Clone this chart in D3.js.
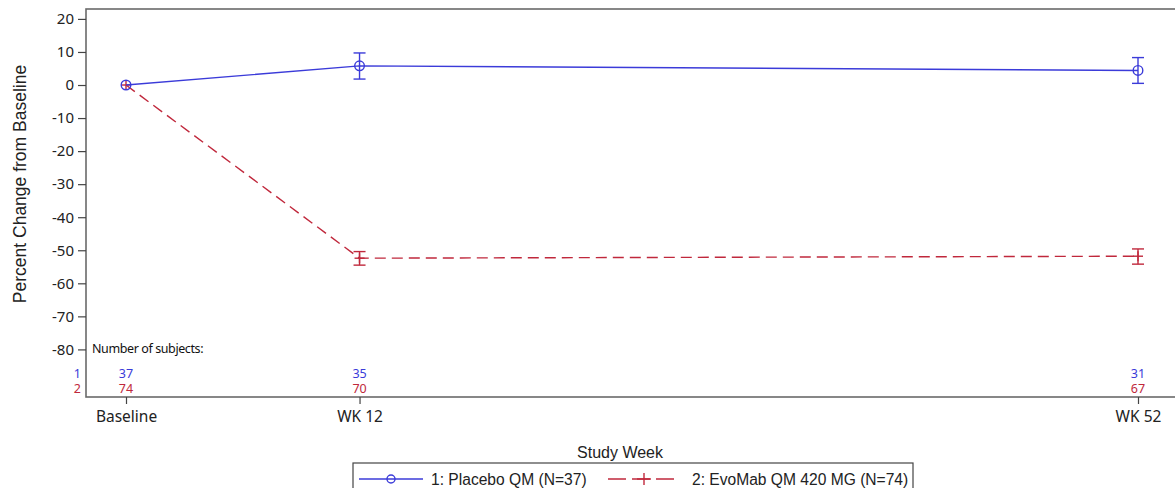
<!DOCTYPE html>
<html>
<head>
<meta charset="utf-8">
<script src="https://cdn.jsdelivr.net/npm/d3@7"></script>
<style>
  body { margin: 0; background: #fff; }
  svg { display: block; }
</style>
</head>
<body>
<div id="chartDiv"></div>
<script>
// data
var weeks = ["Baseline", "WK 12", "WK 52"];
var weekNum = [0, 12, 52];
var yTicks = [20, 10, 0, -10, -20, -30, -40, -50, -60, -70, -80];

var placeboMean = [0, 5.8, 4.4];
var placeboLow = [null, 1.8, 0.5];
var placeboHigh = [null, 9.7, 8.3];
var placeboN = [37, 35, 31];

var evoMean = [0, -52.4, -51.8];
var evoLow = [null, -54.5, -54.2];
var evoHigh = [null, -50.4, -49.6];
var evoN = [74, 70, 67];

var seriesNames = ["1: Placebo QM (N=37)", "2: EvoMab QM 420 MG (N=74)"];

var width = 1175, height = 488;
var margin = { top: 9, right: -10, bottom: 91, left: 86 };
var tickFont = "'Noto Sans', 'Open Sans', sans-serif";
var titleFont = "'Liberation Sans', Arial, sans-serif";
var blue = "#3b3bd9", red = "#c0283c";

var svg = d3.select("#chartDiv").append("svg")
    .attr("width", width)
    .attr("height", height);

var plotW = width - margin.left - margin.right;
var plotH = height - margin.top - margin.bottom;

// weeks placed on their actual week value
var x = d3.scaleLinear()
    .domain([0, 52])
    .range([40, 1052]);

var y = d3.scaleLinear()
    .domain([23, -94.4])
    .range([0, plotH]);

var g = svg.append("g")
    .attr("transform", "translate(" + margin.left + "," + margin.top + ")");

// frame
g.append("rect")
    .attr("x", 0).attr("y", 0)
    .attr("width", plotW).attr("height", plotH)
    .attr("fill", "none")
    .attr("stroke", "#6a6a6a")
    .attr("stroke-width", 1.6);

// y axis
var yAxis = g.append("g")
    .call(d3.axisLeft(y).tickValues(yTicks)
        .tickFormat(function (d) { return String(d); })
        .tickSize(8).tickSizeOuter(0));
yAxis.select(".domain").remove();
yAxis.selectAll(".tick line").attr("stroke", "#444").attr("stroke-width", 1.2);
yAxis.selectAll(".tick text")
    .attr("x", -12)
    .attr("fill", "#222")
    .style("font-family", tickFont)
    .style("font-size", "15px");

// x axis
var xAxis = g.append("g")
    .attr("transform", "translate(0," + plotH + ")")
    .call(d3.axisBottom(x).tickValues(weekNum)
        .tickFormat(function (d, i) { return weeks[i]; })
        .tickSize(7).tickSizeOuter(0));
xAxis.select(".domain").remove();
xAxis.selectAll(".tick line").attr("stroke", "#444").attr("stroke-width", 1.2);
xAxis.selectAll(".tick text")
    .attr("y", 14)
    .attr("fill", "#222")
    .style("font-family", tickFont)
    .style("font-size", "15.5px");

// axis titles
svg.append("text")
    .attr("transform", "translate(26," + 184 + ") rotate(-90)")
    .attr("text-anchor", "middle")
    .style("font-family", titleFont)
    .style("font-size", "17.5px")
    .attr("fill", "#222")
    .text("Percent Change from Baseline");

svg.append("text")
    .attr("x", 620).attr("y", 458)
    .attr("text-anchor", "middle")
    .style("font-family", titleFont)
    .style("font-size", "16px")
    .attr("fill", "#222")
    .text("Study Week");

// series
function drawSeries(mean, low, high, color, dash, marker) {
    var pts = weekNum.map(function (w, i) { return { x: w, m: mean[i], lo: low[i], hi: high[i] }; });
    var line = d3.line()
        .x(function (d) { return x(d.x); })
        .y(function (d) { return y(d.m); });
    g.append("path")
        .datum(pts)
        .attr("d", line)
        .attr("fill", "none")
        .attr("stroke", color)
        .attr("stroke-width", 1.4)
        .attr("stroke-dasharray", dash);

    var bars = g.selectAll(null)
        .data(pts.filter(function (d) { return d.lo !== null; }))
        .enter().append("g")
        .attr("stroke", color)
        .attr("stroke-width", 1.4);
    bars.append("line")
        .attr("x1", function (d) { return x(d.x); })
        .attr("x2", function (d) { return x(d.x); })
        .attr("y1", function (d) { return y(d.lo); })
        .attr("y2", function (d) { return y(d.hi); });
    ["lo", "hi"].forEach(function (k) {
        bars.append("line")
            .attr("x1", function (d) { return x(d.x) - 6; })
            .attr("x2", function (d) { return x(d.x) + 6; })
            .attr("y1", function (d) { return y(d[k]); })
            .attr("y2", function (d) { return y(d[k]); });
    });

    var mk = g.selectAll(null)
        .data(pts)
        .enter().append("g")
        .attr("transform", function (d) { return "translate(" + x(d.x) + "," + y(d.m) + ")"; })
        .attr("stroke", color)
        .attr("fill", "none")
        .attr("stroke-width", 1.4);
    if (marker === "circle") {
        mk.append("circle").attr("r", 4.8);
    } else {
        mk.append("line").attr("x1", -5).attr("x2", 5);
        mk.append("line").attr("y1", -5).attr("y2", 5);
    }
}

drawSeries(evoMean, evoLow, evoHigh, red, "11,6", "plus");
drawSeries(placeboMean, placeboLow, placeboHigh, blue, null, "circle");

// number of subjects table
g.append("text")
    .attr("x", 6).attr("y", y(-80) + 4)
    .style("font-family", tickFont)
    .style("font-size", "12.5px")
    .style("letter-spacing", "-0.4px")
    .attr("fill", "#111")
    .text("Number of subjects:");

var rows = [[placeboN, blue, "1", 369], [evoN, red, "2", 384]];
rows.forEach(function (r) {
    svg.append("text")
        .attr("x", 81).attr("y", r[3] + 9)
        .attr("text-anchor", "end")
        .style("font-family", tickFont)
        .style("font-size", "12.5px")
        .attr("fill", r[1])
        .text(r[2]);
    svg.selectAll(null)
        .data(r[0])
        .enter().append("text")
        .attr("x", function (d, i) { return margin.left + x(weekNum[i]); })
        .attr("y", r[3] + 9)
        .attr("text-anchor", "middle")
        .style("font-family", tickFont)
        .style("font-size", "12.5px")
        .attr("fill", r[1])
        .text(function (d) { return d; });
});

// legend
var leg = svg.append("g");
leg.append("rect")
    .attr("x", 353).attr("y", 463)
    .attr("width", 560).attr("height", 30)
    .attr("fill", "#fff")
    .attr("stroke", "#444")
    .attr("stroke-width", 1.2);

leg.append("line")
    .attr("x1", 359).attr("x2", 423).attr("y1", 479).attr("y2", 479)
    .attr("stroke", blue).attr("stroke-width", 1.4);
leg.append("circle")
    .attr("cx", 391).attr("cy", 479).attr("r", 4)
    .attr("fill", "none").attr("stroke", blue).attr("stroke-width", 1.4);
leg.append("text")
    .attr("x", 431).attr("y", 485)
    .style("font-family", titleFont)
    .style("font-size", "15.6px")
    .attr("fill", "#222")
    .text(seriesNames[0]);

leg.append("line")
    .attr("x1", 608).attr("x2", 680).attr("y1", 479).attr("y2", 479)
    .attr("stroke", red).attr("stroke-width", 1.4)
    .attr("stroke-dasharray", "18,6");
leg.append("line")
    .attr("x1", 637).attr("x2", 651).attr("y1", 479).attr("y2", 479)
    .attr("stroke", red).attr("stroke-width", 1.4);
leg.append("line")
    .attr("x1", 644).attr("x2", 644).attr("y1", 473).attr("y2", 485)
    .attr("stroke", red).attr("stroke-width", 1.4);
leg.append("text")
    .attr("x", 692).attr("y", 485)
    .style("font-family", titleFont)
    .style("font-size", "15.6px")
    .attr("fill", "#222")
    .text(seriesNames[1]);
</script>
</body>
</html>
